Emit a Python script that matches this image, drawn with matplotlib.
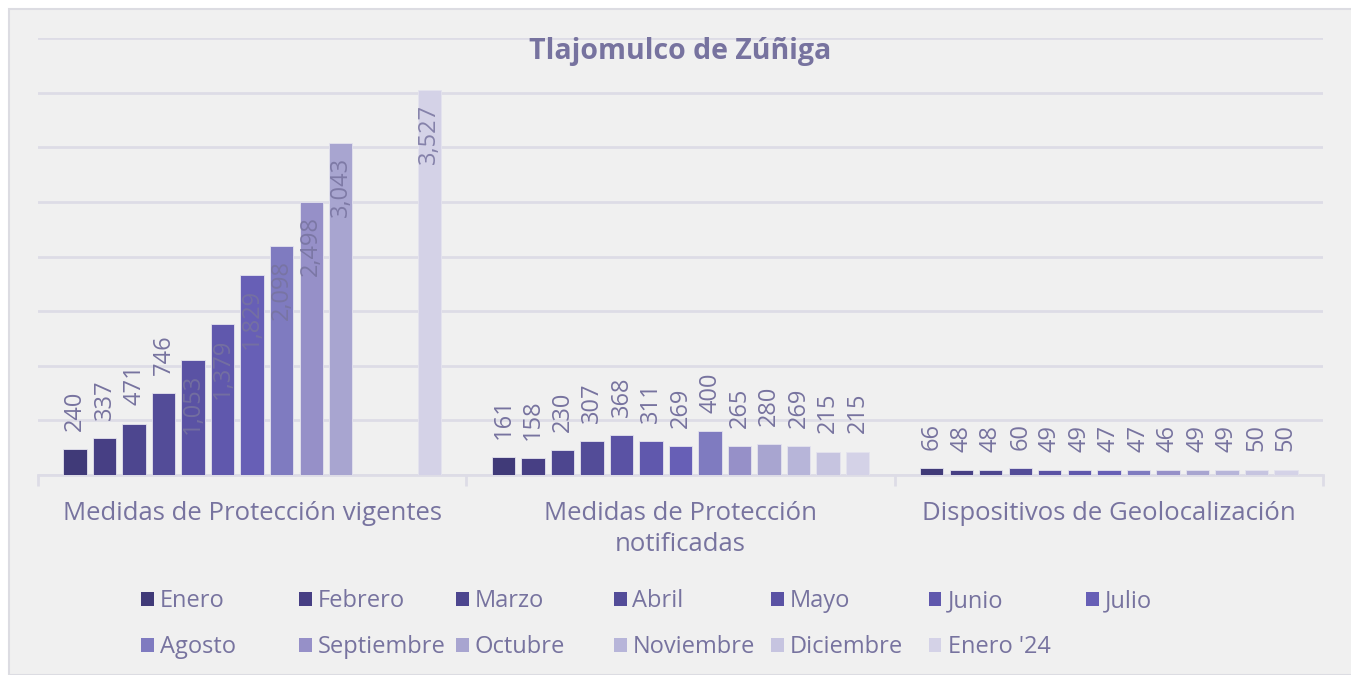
import numpy as np
import matplotlib.pyplot as plt
from matplotlib.patches import Rectangle

# Datos
categorias = ['Medidas de Protección vigentes', 'Medidas de Protección\nnotificadas',
              'Dispositivos de Geolocalización']
meses = ['Enero', 'Febrero', 'Marzo', 'Abril', 'Mayo', 'Junio', 'Julio',
         'Agosto', 'Septiembre', 'Octubre', 'Noviembre', 'Diciembre', "Enero '24"]
vigentes = [240, 337, 471, 746, 1053, 1379, 1829, 2098, 2498, 3043, np.nan, np.nan, 3527]
notificadas = [161, 158, 230, 307, 368, 311, 269, 400, 265, 280, 269, 215, 215]
geolocalizacion = [66, 48, 48, 60, 49, 49, 47, 47, 46, 49, 49, 50, 50]

colores = ['#403a78', '#473f84', '#4d468f', '#534c98', '#5a52a4', '#6058ad', '#675fb6',
           '#7f7bc0', '#9690c8', '#a8a5d0', '#b7b5d9', '#c6c4e0', '#d4d2e7']

texto = '#77739f'
fondo = '#f0f0f0'
rejilla = '#dddce6'

plt.rcParams['font.family'] = ['Open Sans', 'DejaVu Sans']

W, H = 1351, 675
fig = plt.figure(figsize=(W / 100, H / 100), dpi=100, facecolor='white')
fig.patches.append(Rectangle((9 / W, 0), 1, 1 - 9 / H, transform=fig.transFigure,
                             facecolor=fondo, edgecolor='#dcdce2', linewidth=1.5, zorder=-1))

ax = fig.add_axes([38 / W, 1 - 475 / H, (1323 - 38) / W, (475 - 38) / H])
ax.set_facecolor(fondo)

series = np.array([vigentes, notificadas, geolocalizacion], dtype=float)
x = np.arange(len(categorias))
n = len(meses)
paso = 0.0689
ancho = 0.0545

for i, mes in enumerate(meses):
    pos = x + (i - (n - 1) / 2) * paso
    vals = series[:, i]
    ax.bar(pos, np.nan_to_num(vals), width=ancho, color=colores[i], label=mes,
           edgecolor='#e4e3ee', linewidth=0.6, zorder=3)
    for p, v in zip(pos, vals):
        if np.isnan(v):
            continue
        etiqueta = f'{int(v):,}'
        if v >= 1000:
            # etiquetas dentro de la barra
            ax.annotate(etiqueta, (p, v), xytext=(0, -10), textcoords='offset points',
                        rotation=90, ha='center', va='top', fontsize=17,
                        color=texto, alpha=0.85, zorder=4)
        else:
            ax.annotate(etiqueta, (p, v), xytext=(0, 13), textcoords='offset points',
                        rotation=90, ha='center', va='bottom', fontsize=17,
                        color=texto, zorder=4)

ax.set_xlim(-0.5, 2.5)
ax.set_ylim(0, 4000)
ax.set_yticks(np.arange(0, 4001, 500))
ax.yaxis.grid(True, color=rejilla, linewidth=2)
ax.set_axisbelow(True)
ax.tick_params(axis='y', left=False, labelleft=False)

ax.set_xticks(x)
ax.set_xticklabels(categorias, fontsize=18.5, color=texto, linespacing=1.3)
ax.tick_params(axis='x', length=0, pad=19)
ax.set_xticks([-0.5, 0.5, 1.5, 2.5], minor=True)
ax.tick_params(axis='x', which='minor', length=8, width=2, color=rejilla)

for lado in ['top', 'right', 'left']:
    ax.spines[lado].set_visible(False)
ax.spines['bottom'].set_color(rejilla)
ax.spines['bottom'].set_linewidth(2)

ax.text(0.5, 0.97, 'Tlajomulco de Zúñiga', transform=ax.transAxes, ha='center', va='center',
        fontsize=20.5, fontweight='bold', color=texto)

# leyenda manual, columnas de ancho fijo
for i, mes in enumerate(meses):
    fila, col = divmod(i, 7)
    xm = 141 + col * 157.5
    ym = 599 + fila * 46
    fig.patches.append(Rectangle((xm / W, 1 - (ym + 7) / H), 13 / W, 14 / H,
                                 transform=fig.transFigure, facecolor=colores[i],
                                 edgecolor='none'))
    fig.text((xm + 19) / W, 1 - (ym + 2) / H, mes, ha='left', va='center',
             fontsize=17, color=texto)

fig.savefig('out.png', dpi=100, facecolor='white')
